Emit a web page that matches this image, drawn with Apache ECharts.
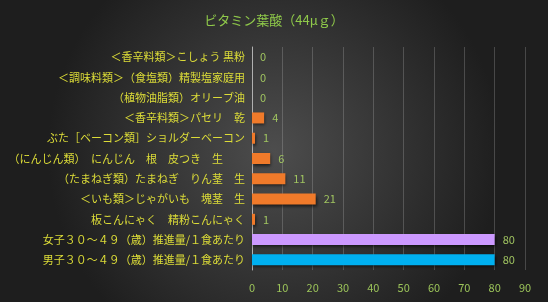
<!DOCTYPE html>
<html><head><meta charset="utf-8">
<script src="https://cdn.jsdelivr.net/npm/echarts@6/dist/echarts.min.js"></script>
<style>html,body{margin:0;padding:0;background:#333;}#c{width:548px;height:302px;}</style>
</head><body><div id="c"></div>
<script>
const titleText = 'ビタミン葉酸（44μｇ）';
const categories = [
  '＜香辛料類＞こしょう 黒粉',
  '＜調味料類＞（食塩類）精製塩家庭用',
  '（植物油脂類）オリーブ油',
  '＜香辛料類＞パセリ　乾',
  'ぶた［ベーコン類］ショルダーベーコン',
  '（にんじん類）　にんじん　根　皮つき　生　　',
  '（たまねぎ類）たまねぎ　りん茎　生',
  '＜いも類＞じゃがいも　塊茎　生',
  '板こんにゃく　精粉こんにゃく',
  '女子３０～４９（歳）推進量/１食あたり',
  '男子３０～４９（歳）推進量/１食あたり'
];
const values = [0, 0, 0, 4, 1, 6, 11, 21, 1, 80, 80];
const barColors = ['#f07a2a','#f07a2a','#f07a2a','#f07a2a','#f07a2a','#f07a2a','#f07a2a','#f07a2a','#f07a2a','#cc99ff','#00b0f0'];
const xTicks = {min: 0, max: 90, interval: 10};

const chart = echarts.init(document.getElementById('c'));
chart.setOption({
  backgroundColor: {
    type: 'radial', x: 0.5, y: 0.5, r: 0.75,
    colorStops: [{offset: 0, color: '#4d4d4d'}, {offset: 1, color: '#1e1e1e'}]
  },
  title: {
    text: titleText, left: 'center', top: 9,
    textStyle: {color: '#8fc94a', fontSize: 13, fontWeight: 'normal', fontFamily: 'Noto Sans CJK JP'}
  },
  grid: {left: 252, right: 23, top: 47, bottom: 32, containLabel: false},
  xAxis: {
    type: 'value', min: xTicks.min, max: xTicks.max, interval: xTicks.interval,
    axisLine: {show: false}, axisTick: {show: false},
    axisLabel: {color: '#9cc45a', fontSize: 11, fontFamily: 'Noto Sans CJK JP', margin: 12},
    splitLine: {show: true, lineStyle: {color: 'rgba(200,200,200,0.25)', width: 1}}
  },
  yAxis: {
    type: 'category', data: categories, inverse: true,
    axisLine: {show: true, lineStyle: {color: '#b0b0b0'}},
    axisTick: {show: false},
    axisLabel: {color: '#dcdc38', fontSize: 11, fontFamily: 'Noto Sans CJK JP', margin: 7}
  },
  series: [{
    type: 'bar', data: values.map((v, i) => ({value: v, itemStyle: {color: barColors[i]}})),
    barWidth: 11,
    itemStyle: {shadowColor: 'rgba(0,0,0,0.6)', shadowBlur: 3, shadowOffsetX: 1, shadowOffsetY: 2},
    label: {show: true, position: 'right', distance: 8, color: '#a0c460', fontSize: 11, fontFamily: 'Noto Sans CJK JP'}
  }],
  animation: false
});
</script></body></html>
